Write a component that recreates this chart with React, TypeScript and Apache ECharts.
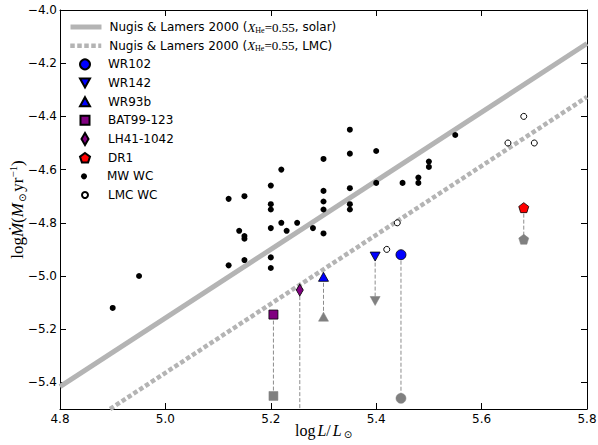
import React, { useEffect, useRef } from 'react';
import * as echarts from 'echarts';

// ---- axis ticks ----
const xTicks = [4.8, 5.0, 5.2, 5.4, 5.6, 5.8];
const yTicks = [-4.0, -4.2, -4.4, -4.6, -4.8, -5.0, -5.2, -5.4];

// ---- Nugis & Lamers 2000 relations (end points) ----
const nlSolar = [[4.8, -5.416], [5.8, -4.126]];
const nlLMC = [[4.895, -5.5], [5.8, -4.327]];

// ---- Milky Way WC stars ----
const mwWC = [
  [4.90, -5.12], [4.95, -5.00], [5.12, -4.71], [5.15, -4.70], [5.20, -4.66], [5.22, -4.60],
  [5.20, -4.73], [5.20, -4.75], [5.14, -4.83], [5.15, -4.85], [5.15, -4.86], [5.20, -4.82],
  [5.22, -4.80], [5.23, -4.83], [5.25, -4.80], [5.28, -4.82], [5.30, -4.84], [5.30, -4.75],
  [5.30, -4.72], [5.30, -4.68], [5.30, -4.56], [5.35, -4.45], [5.35, -4.54], [5.35, -4.67],
  [5.35, -4.73], [5.35, -4.75], [5.40, -4.53], [5.40, -4.65], [5.45, -4.65], [5.48, -4.63],
  [5.48, -4.65], [5.50, -4.57], [5.50, -4.59], [5.55, -4.47], [5.20, -4.93], [5.20, -4.97],
  [5.15, -4.94], [5.12, -4.96],
];

// ---- LMC WC stars ----
const lmcWC = [[5.68, -4.40], [5.65, -4.50], [5.70, -4.50], [5.44, -4.80], [5.42, -4.90]];

// ---- individual stars ----
const starNames = ['WR102', 'WR142', 'WR93b', 'BAT99-123', 'LH41-1042', 'DR1'];
const starLogL = [5.447, 5.398, 5.30, 5.205, 5.255, 5.68];
const starMdot = [-4.92, -4.927, -5.003, -5.145, -5.053, -4.743];
const starMdotNL = [-5.46, -5.094, -5.153, -5.451, -5.56, -4.862];

// ---- styles ----
const pentagon = 'path://M0,-1 L0.951,-0.309 L0.588,0.809 L-0.588,0.809 L-0.951,-0.309 Z';
const downTri = 'path://M0,0 L2,0 L1,1.8 Z';
const starSymbols = ['circle', 'triangle', 'triangle', 'rect', 'diamond', pentagon];
const starLegendIcons = ['circle', downTri, 'triangle', 'rect', 'diamond', pentagon];
const starRotate = [0, 180, 0, 0, 0, 0];
const starSizes: any[] = [[10, 10], [10, 9], [10, 9], [9, 9], [7, 12], [10, 10]];
const starColors = ['#0000ff', '#0000ff', '#0000ff', '#800080', '#800080', '#ff0000'];
const GRAY = '#808080';
const LINEGRAY = '#b4b4b4';
const SANS = 'DejaVu Sans';
const SERIF = 'Liberation Serif';

function buildOption() {
  const series: any[] = [];
  series.push({
    name: 'NL solar', type: 'line', data: nlSolar, symbol: 'none', z: 1,
    lineStyle: { color: LINEGRAY, width: 5, cap: 'butt' }, itemStyle: { color: LINEGRAY },
  });
  series.push({
    name: 'NL LMC', type: 'line', data: nlLMC, symbol: 'none', z: 1,
    lineStyle: { color: LINEGRAY, width: 4.5, type: [4.5, 2.5], cap: 'butt' }, itemStyle: { color: LINEGRAY },
  });
  starNames.forEach((n, i) => {
    series.push({
      name: 'conn ' + n, type: 'line', symbol: 'none', z: 2,
      data: [[starLogL[i], starMdot[i]], [starLogL[i], starMdotNL[i]]],
      lineStyle: { color: '#8c8c8c', width: 1, type: [4, 2] },
    });
  });
  starNames.forEach((n, i) => {
    series.push({
      name: 'NL ' + n, type: 'scatter', z: 3,
      data: [[starLogL[i], starMdotNL[i]]],
      symbol: starSymbols[i], symbolSize: starSizes[i], symbolRotate: starRotate[i],
      itemStyle: { color: GRAY, borderColor: GRAY, borderWidth: 0.5, opacity: 1 },
    });
  });
  series.push({
    name: 'MW WC', type: 'scatter', data: mwWC, symbol: 'circle', symbolSize: 6, z: 4,
    itemStyle: { color: '#000', opacity: 1 },
  });
  series.push({
    name: 'LMC WC', type: 'scatter', data: lmcWC, symbol: 'circle', symbolSize: 6, z: 4,
    itemStyle: { color: '#fff', borderColor: '#000', borderWidth: 1, opacity: 1 },
  });
  starNames.forEach((n, i) => {
    series.push({
      name: n, type: 'scatter', z: 5,
      data: [[starLogL[i], starMdot[i]]],
      symbol: starSymbols[i], symbolSize: starSizes[i], symbolRotate: starRotate[i],
      itemStyle: { color: starColors[i], borderColor: '#000', borderWidth: 0.8, opacity: 1 },
    });
  });

  const richLeg = {
    a: { fontSize: 12, fontFamily: SANS, color: '#000', lineHeight: 14 },
    i: { fontSize: 13, fontFamily: SERIF, fontStyle: 'italic', color: '#000', lineHeight: 14 },
    n: { fontSize: 13, fontFamily: SERIF, color: '#000', lineHeight: 14 },
    s: { fontSize: 8, fontFamily: SERIF, color: '#000', lineHeight: 8, verticalAlign: 'bottom' },
  };
  const nlLabel = (tag: string) => `{a|Nugis & Lamers 2000 (}{i|X}{s|He}{n|=0.55}{a|, ${tag})}`;

  const rows: any[] = [
    { name: 'NL solar', w: 31, h: 14, line: true, fmt: () => nlLabel('solar') },
    { name: 'NL LMC', w: 31, h: 14, line: true, fmt: () => nlLabel('LMC') },
    ...starNames.map((n, i) => ({
      name: n, w: starSizes[i][0], h: starSizes[i][1], icon: starLegendIcons[i],
    })),
    { name: 'MW WC', w: 6, h: 6, icon: 'circle' },
    { name: 'LMC WC', w: 6, h: 6, icon: 'circle' },
  ];
  const legend = rows.map((r, k) => {
    const cy = 27 + 18.67 * k;
    const left = r.line ? 68 : 84 - r.w / 2;
    const pad = 107 - (left + r.w + 5);
    const item: any = { name: r.name };
    if (r.icon) item.icon = r.icon;
    const lg: any = {
      show: true, orient: 'horizontal', left, top: cy - 7, padding: 0,
      itemWidth: r.w, itemHeight: r.h, selectedMode: false,
      data: [item],
      formatter: r.fmt ? r.fmt : (nm: string) => nm,
      textStyle: {
        fontSize: 12, fontFamily: SANS, color: '#000', lineHeight: 14,
        padding: [0, 0, 0, pad], rich: richLeg,
      },
    };
    if (r.line) {
      lg.lineStyle = { width: r.name === 'NL LMC' ? 4.5 : 5 };
      lg.itemStyle = { color: 'rgba(0,0,0,0)', borderWidth: 0, opacity: 0 };
    }
    return lg;
  });

  const axisCommon = {
    type: 'value',
    axisLine: { show: true, onZero: false, lineStyle: { color: '#000', width: 1 } },
    splitLine: { show: false },
  };

  return {
    animation: false,
    backgroundColor: '#fff',
    grid: { left: 60, right: 11, top: 10, bottom: 36, containLabel: false, outerBoundsMode: 'none' },
    legend,
    xAxis: [
      {
        ...axisCommon, position: 'bottom', min: 4.8, max: 5.8,
        axisTick: { show: true, inside: true, length: 6, customValues: xTicks, lineStyle: { color: '#000' } },
        axisLabel: {
          show: true, customValues: xTicks, margin: 4, fontSize: 12, fontFamily: SANS, color: '#000',
          formatter: (v: number) => v.toFixed(1),
        },
        name: '{r|log}{i|L}{r|/}{i|L}{s|⊙}',
        nameLocation: 'middle', nameGap: 12, nameMoveOverlap: false,
        nameTextStyle: {
          rich: {
            r: { fontSize: 16, fontFamily: SERIF, color: '#000', lineHeight: 18, padding: [0, 2, 0, 0] },
            i: { fontSize: 16, fontFamily: SERIF, fontStyle: 'italic', color: '#000', lineHeight: 18 },
            s: { fontSize: 10, fontFamily: 'DejaVu Sans', color: '#000', lineHeight: 10, verticalAlign: 'bottom', padding: [0, 0, 0, 2] },
          },
        },
      },
      {
        ...axisCommon, position: 'top', min: 4.8, max: 5.8,
        axisTick: { show: true, inside: true, length: 6, customValues: xTicks, lineStyle: { color: '#000' } },
        axisLabel: { show: false },
      },
    ],
    yAxis: [
      {
        ...axisCommon, position: 'left', min: -5.5, max: -4.0,
        axisTick: { show: true, inside: true, length: 6, customValues: yTicks, lineStyle: { color: '#000' } },
        axisLabel: {
          show: true, customValues: yTicks, margin: 3, fontSize: 12, fontFamily: SANS, color: '#000',
          formatter: (v: number) => (v < 0 ? '\u2212' : '') + Math.abs(v).toFixed(1),
        },
        name: '{r|log}{i|Ṁ}{r|(}{i|M}{s|⊙}{r|yr}{p|−1}{r|)}',
        nameLocation: 'middle', nameGap: 33, nameRotate: 90, nameMoveOverlap: false,
        nameTextStyle: {
          rich: {
            r: { fontSize: 17, fontFamily: SERIF, color: '#000', lineHeight: 20 },
            i: { fontSize: 17, fontFamily: SERIF, fontStyle: 'italic', color: '#000', lineHeight: 20 },
            s: { fontSize: 10, fontFamily: 'DejaVu Sans', color: '#000', lineHeight: 10, verticalAlign: 'bottom', padding: [0, 2, 0, 1] },
            p: { fontSize: 11, fontFamily: SERIF, color: '#000', lineHeight: 10, verticalAlign: 'top' },
          },
        },
      },
      {
        ...axisCommon, position: 'right', min: -5.5, max: -4.0,
        axisTick: { show: true, inside: true, length: 6, customValues: yTicks, lineStyle: { color: '#000' } },
        axisLabel: { show: false },
      },
    ],
    series,
  };
}

export default function App() {
  const ref = useRef<HTMLDivElement>(null);
  useEffect(() => {
    const chart = echarts.init(ref.current!, null, { renderer: 'svg' });
    chart.setOption(buildOption() as any);
    return () => chart.dispose();
  }, []);
  return (
    <div
      ref={ref}
      style={{ position: 'absolute', left: 0, top: 0, width: 598, height: 445, background: '#fff' }}
    />
  );
}
